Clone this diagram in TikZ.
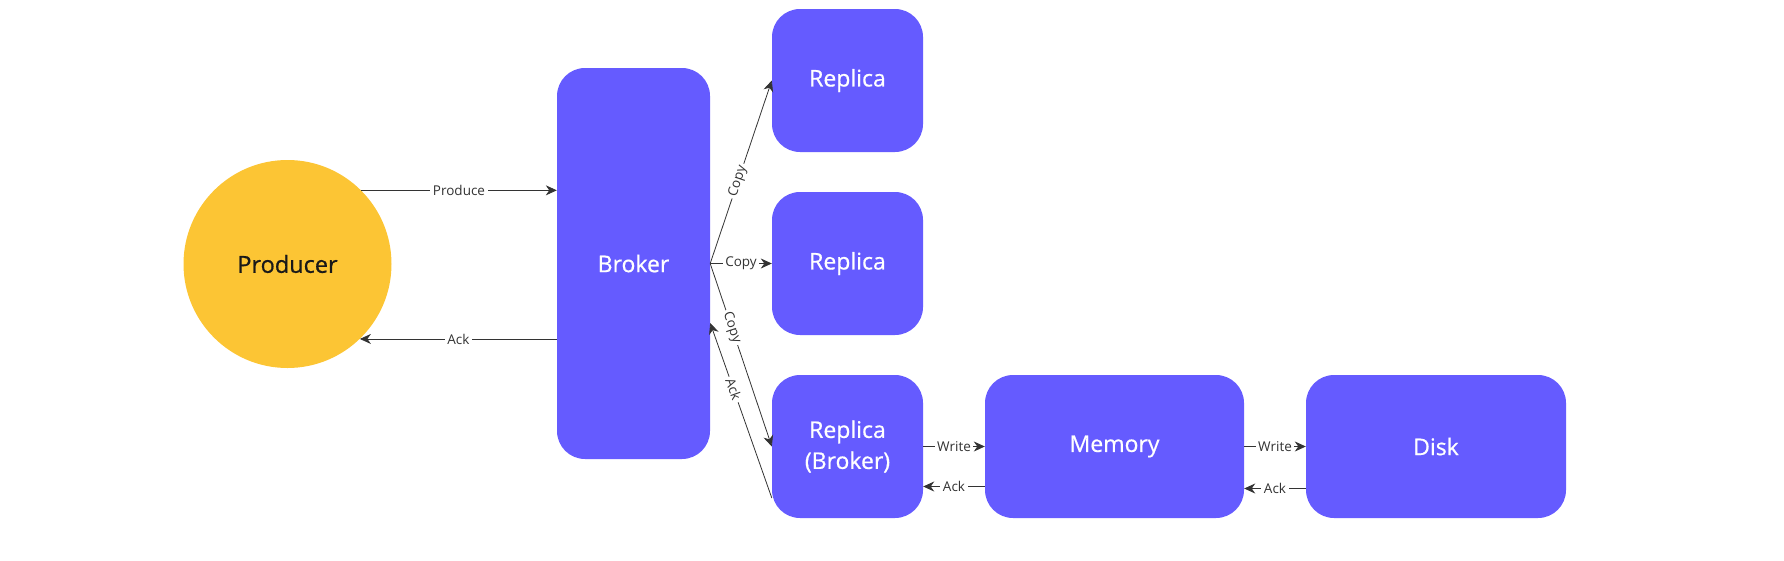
\documentclass[tikz,border=0pt]{standalone}
\usepackage{fontspec}
\setmainfont{Open Sans}
\newfontface\mynodefont{Open Sans}[FakeBold=0.6]
\usetikzlibrary{arrows.meta}

\definecolor{mypurple}{HTML}{655BFF}
\definecolor{myyellow}{HTML}{FCC534}
\definecolor{myline}{HTML}{333333}

\tikzset{mybox/.style={fill=mypurple, rounded corners=28pt, text=white, align=center,
           font=\mynodefont\fontsize{23}{31}\selectfont, minimum width=151pt, minimum height=143pt}}
\tikzset{mycircle/.style={circle, fill=myyellow, minimum size=208pt, inner sep=0pt,
           text=black!90, font=\mynodefont\fontsize{23.5}{28}\selectfont}}
\tikzset{myarrow/.style={draw=myline, line width=0.8pt, -{Stealth[length=11pt,width=10pt,inset=3.5pt]}}}
\tikzset{mylabel/.style={fill=white, inner sep=2.5pt, text=myline, font=\fontsize{13.5}{15}\selectfont}}

\begin{document}
\begin{tikzpicture}[x=1pt,y=-1pt]

% testing:
%\draw[gray] (0,0) grid[step=100] (1784,560);

\useasboundingbox (0,0) rectangle (1784,560);

% the nodes
\node[mycircle] (producer) at (287.5,264) {Producer};
\node[mybox, minimum width=153pt, minimum height=391pt] (broker) at (633.5,263.5) {Broker};
\node[mybox] (rep1) at (847.5,80.5) {Replica};
\node[mybox] (rep2) at (847.5,263.5) {Replica};
\node[mybox] (rep3) at (847.5,446.5) {Replica\\(Broker)};
\node[mybox, minimum width=259pt] (memory) at (1114.5,446.5) {Memory};
\node[mybox, minimum width=260pt] (disk) at (1436,446.5) {Disk};

% producer and broker
\draw[myarrow] (producer.45) -- (producer.45 -| broker.west)
       node[midway, mylabel] {Produce};
\draw[myarrow] (producer.-46 -| broker.west) -- (producer.-46)
       node[midway, mylabel] {Ack};

% copies to the replicas
\draw[myarrow] (broker.east) -- (rep1.west)
       node[pos=0.45, sloped, mylabel] {Copy};
\draw[myarrow] (broker.east) -- (rep2.west)
       node[midway, mylabel] {Copy};
\draw[myarrow] (broker.east) -- (rep3.west)
       node[pos=0.35, sloped, mylabel] {Copy};
\draw[myarrow] ([yshift=-51.5pt]rep3.west) -- ([yshift=-59.5pt]broker.east)
       node[pos=0.62, sloped, mylabel] {Ack};

% write to memory and disk
\draw[myarrow] (rep3.east) -- (memory.west)
       node[midway, mylabel] {Write};
\draw[myarrow] ([yshift=-40pt]memory.west) -- ([yshift=-40pt]rep3.east)
       node[midway, mylabel] {Ack};
\draw[myarrow] (memory.east) -- (disk.west)
       node[midway, mylabel] {Write};
\draw[myarrow] ([yshift=-42pt]disk.west) -- ([yshift=-42pt]memory.east)
       node[midway, mylabel] {Ack};

\end{tikzpicture}
\end{document}
